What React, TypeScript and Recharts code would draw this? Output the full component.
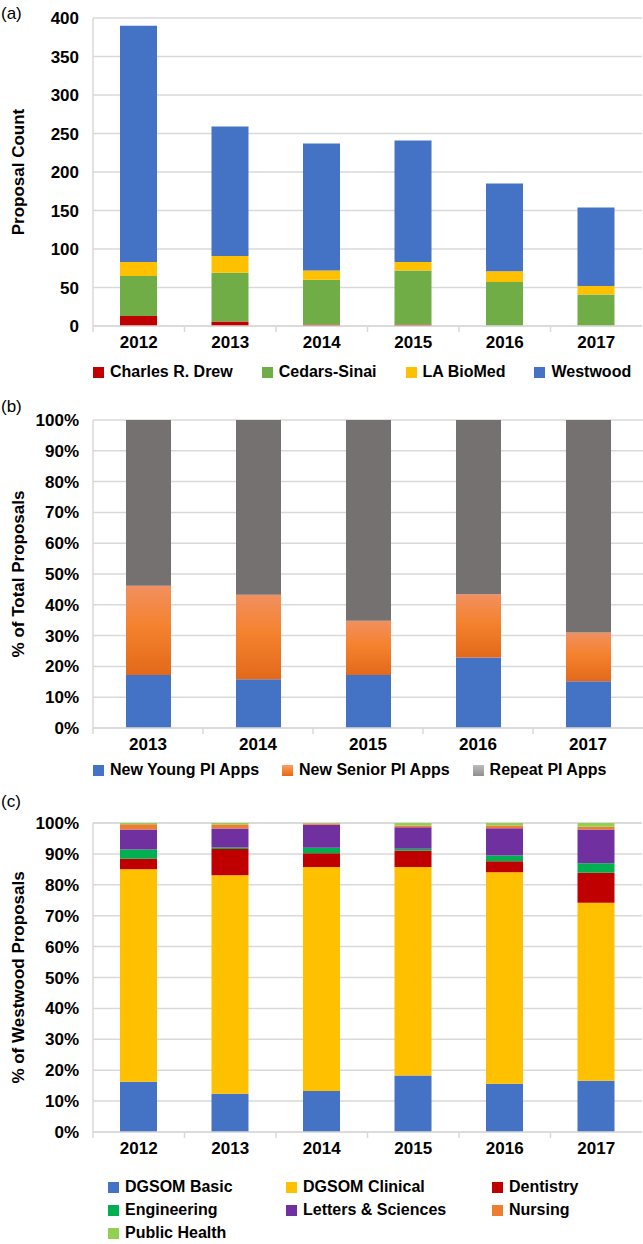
import React from "react";
import { BarChart, Bar, XAxis, YAxis, CartesianGrid, Label } from "recharts";

const FONT = "'Liberation Sans', Arial, sans-serif";
const GRID = "#D9D9D9";

// (a) proposal counts by site
const yearsA = ["2012", "2013", "2014", "2015", "2016", "2017"];
const drew = [13, 6, 2, 2, 0, 0];
const cedars = [52, 63, 58, 70, 57, 41];
const laBioMed = [18, 22, 12, 11, 14, 11];
const westwood = [307, 168, 165, 158, 114, 102];
const countTicks = [0, 50, 100, 150, 200, 250, 300, 350, 400];

// (b) share of total proposals by PI type (%)
const yearsB = ["2013", "2014", "2015", "2016", "2017"];
const newYoung = [17.2, 15.8, 17.2, 22.9, 15.2];
const newSenior = [29.0, 27.5, 17.6, 20.5, 15.8];
const repeatPI = [53.8, 56.7, 65.2, 56.6, 69.0];
const pctTicks = [0, 10, 20, 30, 40, 50, 60, 70, 80, 90, 100];

// (c) share of Westwood proposals by school (%)
const yearsC = ["2012", "2013", "2014", "2015", "2016", "2017"];
const dgsomBasic = [16.3, 12.4, 13.3, 18.3, 15.6, 16.6];
const dgsomClinical = [68.7, 70.7, 72.5, 67.5, 68.5, 57.6];
const dentistry = [3.4, 8.5, 4.4, 5.2, 3.5, 9.7];
const engineering = [3.0, 0.5, 1.8, 0.7, 1.9, 3.1];
const lettersSciences = [6.5, 6.1, 7.4, 6.9, 8.8, 10.9];
const nursing = [1.7, 1.3, 0.4, 0.6, 0.9, 0.9];
const publicHealth = [0.4, 0.5, 0.2, 0.8, 0.8, 1.2];

const dataA = yearsA.map((year, i) => ({
  year,
  drew: drew[i],
  cedars: cedars[i],
  la: laBioMed[i],
  westwood: westwood[i],
}));
const dataB = yearsB.map((year, i) => ({
  year,
  young: newYoung[i],
  senior: newSenior[i],
  repeat: repeatPI[i],
}));
const dataC = yearsC.map((year, i) => ({
  year,
  basic: dgsomBasic[i],
  clinical: dgsomClinical[i],
  dent: dentistry[i],
  eng: engineering[i],
  ls: lettersSciences[i],
  nurs: nursing[i],
  ph: publicHealth[i],
}));

const seriesA = [
  { key: "drew", name: "Charles R. Drew", color: "#C00000" },
  { key: "cedars", name: "Cedars-Sinai", color: "#70AD47" },
  { key: "la", name: "LA BioMed", color: "#FFC000" },
  { key: "westwood", name: "Westwood", color: "#4472C4" },
];
const seriesB = [
  { key: "young", name: "New Young PI Apps", color: "#4472C4", swatch: "#4472C4" },
  {
    key: "senior",
    name: "New Senior PI Apps",
    color: "url(#seniorGrad)",
    swatch: "linear-gradient(#F2A070, #F5822E 50%, #E2691A)",
  },
  {
    key: "repeat",
    name: "Repeat PI Apps",
    color: "#767171",
    swatch: "linear-gradient(#BDBDBD, #A5A5A5 50%, #8E8E8E)",
  },
];
const seriesC = [
  { key: "basic", name: "DGSOM Basic", color: "#4472C4" },
  { key: "clinical", name: "DGSOM Clinical", color: "#FFC000" },
  { key: "dent", name: "Dentistry", color: "#C00000" },
  { key: "eng", name: "Engineering", color: "#00B050" },
  { key: "ls", name: "Letters & Sciences", color: "#7030A0" },
  { key: "nurs", name: "Nursing", color: "#ED7D31" },
  { key: "ph", name: "Public Health", color: "#92D050" },
];

const tickStyle = { fontSize: 17, fontWeight: "bold", fill: "#000", fontFamily: FONT };

function makeXTick(step: number) {
  return (props: any) => {
    const { x, y, payload } = props;
    return (
      <g>
        <line x1={x - step / 2} x2={x - step / 2} y1={y} y2={y + 6} stroke={GRID} strokeWidth={1.5} />
        <text x={x} y={y + 22} textAnchor="middle" {...tickStyle}>
          {payload.value}
        </text>
      </g>
    );
  };
}

function axisTitle(text: string) {
  return (props: any) => {
    const vb = props.viewBox || {};
    const cx = 18;
    const cy = vb.y + vb.height / 2;
    return (
      <text
        x={cx}
        y={cy}
        transform={`rotate(-90, ${cx}, ${cy})`}
        textAnchor="middle"
        dominantBaseline="central"
        fontSize={17}
        fontWeight="bold"
        fontFamily={FONT}
        fill="#000"
      >
        {text}
      </text>
    );
  };
}

function Swatch({ bg }: { bg: string }) {
  return <span style={{ display: "inline-block", width: 11, height: 11, background: bg, marginRight: 6 }} />;
}

function PanelLetter({ text, top }: { text: string; top: number }) {
  return (
    <div style={{ position: "absolute", left: 1, top, fontSize: 17, fontFamily: FONT, color: "#000" }}>{text}</div>
  );
}

const pct = (v: number) => `${v}%`;

export default function App() {
  return (
    <div
      style={{
        position: "absolute",
        left: 0,
        top: 0,
        width: 643,
        height: 1244,
        background: "#fff",
        fontFamily: FONT,
        overflow: "hidden",
      }}
    >
      {/* (a) */}
      <PanelLetter text="(a)" top={4} />
      <div style={{ position: "absolute", left: 0, top: 0 }}>
        <BarChart width={643} height={360} data={dataA} margin={{ top: 18, right: 1, left: 0, bottom: 4 }} barSize={37}>
          <CartesianGrid vertical={false} stroke={GRID} strokeWidth={1.5} />
          <XAxis
            dataKey="year"
            height={30}
            axisLine={{ stroke: GRID, strokeWidth: 1.5 }}
            tickLine={false}
            tickSize={0}
            tickMargin={0}
            tick={makeXTick(549 / 6)}
          />
          <YAxis
            width={93}
            domain={[0, 400]}
            ticks={countTicks}
            axisLine={{ stroke: GRID, strokeWidth: 1.5 }}
            tickLine={false}
            tickSize={0}
            tickMargin={14}
            tick={tickStyle}
          >
            <Label content={axisTitle("Proposal Count")} />
          </YAxis>
          {seriesA.map((s) => (
            <Bar key={s.key} dataKey={s.key} name={s.name} stackId="a" fill={s.color} isAnimationActive={false} />
          ))}
        </BarChart>
      </div>
      <div
        style={{
          position: "absolute",
          left: 93,
          top: 363,
          display: "flex",
          gap: 29,
          fontSize: 16,
          fontWeight: "bold",
          whiteSpace: "nowrap",
        }}
      >
        {seriesA.map((s) => (
          <span key={s.key} style={{ display: "flex", alignItems: "center" }}>
            <Swatch bg={s.color} />
            {s.name}
          </span>
        ))}
      </div>

      {/* (b) */}
      <PanelLetter text="(b)" top={397} />
      <div style={{ position: "absolute", left: 0, top: 380 }}>
        <BarChart width={643} height={380} data={dataB} margin={{ top: 40, right: 0, left: 0, bottom: 2 }} barSize={45}>
          <defs>
            <linearGradient id="seniorGrad" x1="0" y1="0" x2="0" y2="1">
              <stop offset="0%" stopColor="#F19060" />
              <stop offset="45%" stopColor="#F5822E" />
              <stop offset="100%" stopColor="#E2691A" />
            </linearGradient>
          </defs>
          <CartesianGrid vertical={false} stroke={GRID} strokeWidth={1.5} />
          <XAxis
            dataKey="year"
            height={30}
            axisLine={{ stroke: GRID, strokeWidth: 1.5 }}
            tickLine={false}
            tickSize={0}
            tickMargin={0}
            tick={makeXTick(550 / 5)}
          />
          <YAxis
            width={93}
            domain={[0, 100]}
            ticks={pctTicks}
            tickFormatter={pct}
            axisLine={{ stroke: GRID, strokeWidth: 1.5 }}
            tickLine={false}
            tickSize={0}
            tickMargin={14}
            tick={tickStyle}
          >
            <Label content={axisTitle("% of Total Proposals")} />
          </YAxis>
          {seriesB.map((s) => (
            <Bar key={s.key} dataKey={s.key} name={s.name} stackId="b" fill={s.color} isAnimationActive={false} />
          ))}
        </BarChart>
      </div>
      <div
        style={{
          position: "absolute",
          left: 93,
          top: 761,
          display: "flex",
          gap: 23,
          fontSize: 16,
          fontWeight: "bold",
          whiteSpace: "nowrap",
        }}
      >
        {seriesB.map((s) => (
          <span key={s.key} style={{ display: "flex", alignItems: "center" }}>
            <Swatch bg={s.swatch} />
            {s.name}
          </span>
        ))}
      </div>

      {/* (c) */}
      <PanelLetter text="(c)" top={792} />
      <div style={{ position: "absolute", left: 0, top: 790 }}>
        <BarChart width={643} height={375} data={dataC} margin={{ top: 33, right: 1, left: 0, bottom: 3 }} barSize={37}>
          <CartesianGrid vertical={false} stroke={GRID} strokeWidth={1.5} />
          <XAxis
            dataKey="year"
            height={30}
            axisLine={{ stroke: GRID, strokeWidth: 1.5 }}
            tickLine={false}
            tickSize={0}
            tickMargin={0}
            tick={makeXTick(549 / 6)}
          />
          <YAxis
            width={93}
            domain={[0, 100]}
            ticks={pctTicks}
            tickFormatter={pct}
            axisLine={{ stroke: GRID, strokeWidth: 1.5 }}
            tickLine={false}
            tickSize={0}
            tickMargin={14}
            tick={tickStyle}
          >
            <Label content={axisTitle("% of Westwood Proposals")} />
          </YAxis>
          {seriesC.map((s) => (
            <Bar key={s.key} dataKey={s.key} name={s.name} stackId="c" fill={s.color} isAnimationActive={false} />
          ))}
        </BarChart>
      </div>
      <div
        style={{
          position: "absolute",
          left: 108,
          top: 1177,
          display: "grid",
          gridTemplateColumns: "178px 206px 140px",
          rowGap: 3,
          fontSize: 16,
          fontWeight: "bold",
          whiteSpace: "nowrap",
        }}
      >
        {seriesC.map((s) => (
          <span key={s.key} style={{ display: "flex", alignItems: "center", height: 20 }}>
            <Swatch bg={s.color} />
            {s.name}
          </span>
        ))}
      </div>
    </div>
  );
}
